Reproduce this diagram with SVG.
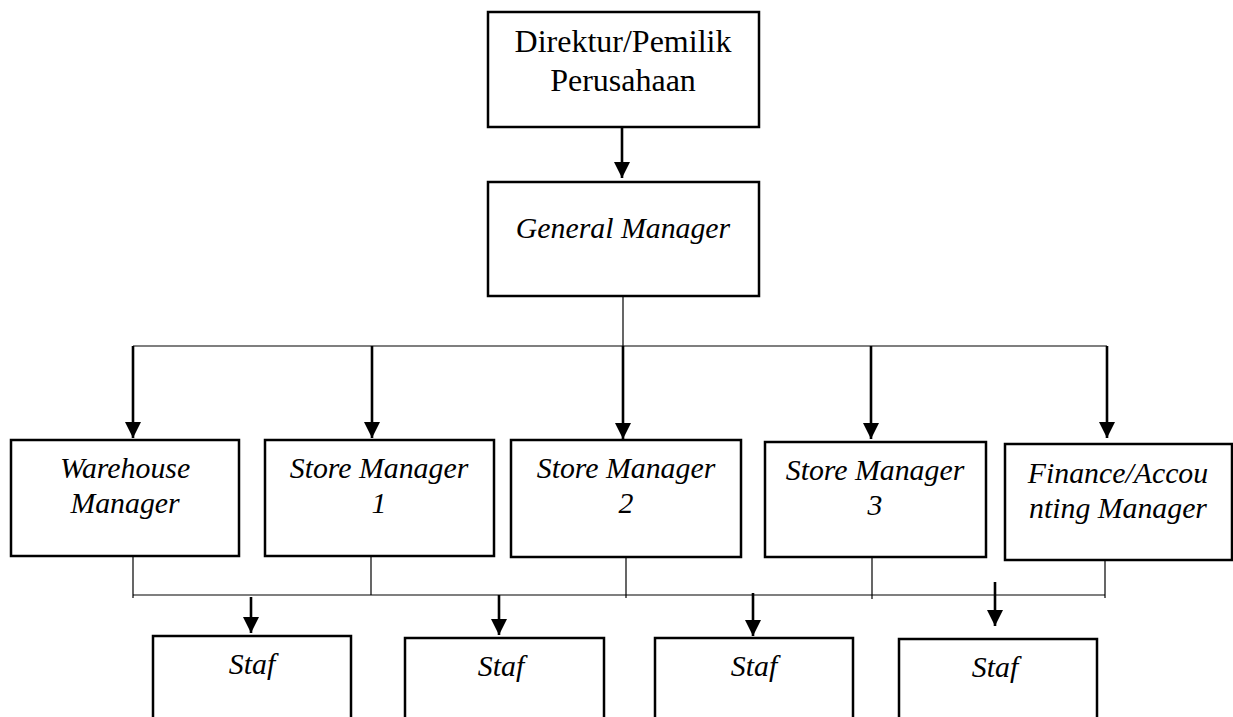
<svg xmlns="http://www.w3.org/2000/svg" width="1233" height="717" viewBox="0 0 1233 717">
<style>
.box{fill:#fff;stroke:#000;stroke-width:2.5}
.t{font-family:"Liberation Serif","Times New Roman",serif;fill:#000;text-anchor:middle}
.r{font-size:32px}
.i{font-size:29.8px;font-style:italic}
.thin{fill:none;stroke:#000;stroke-width:1.2}
.arr{fill:none;stroke:#000;stroke-width:2.6;marker-end:url(#ah)}
</style>
<defs>
<marker id="ah" viewBox="0 0 16 16" refX="16" refY="8" markerWidth="16" markerHeight="16" markerUnits="userSpaceOnUse" orient="auto">
<path d="M0,0 L16,8 L0,16 Z" fill="#000"/>
</marker>
</defs>
<rect width="1233" height="717" fill="#fff"/>
<g id="connectors">
<line class="arr" x1="622" y1="127" x2="622" y2="178"/>
<line class="thin" x1="623" y1="296" x2="623" y2="346"/>
<line class="thin" x1="133" y1="346" x2="1107" y2="346"/>
<line class="arr" x1="133" y1="346" x2="133" y2="438"/>
<line class="arr" x1="372" y1="346" x2="372" y2="438"/>
<line class="arr" x1="623" y1="346" x2="623" y2="439"/>
<line class="arr" x1="871" y1="346" x2="871" y2="439"/>
<line class="arr" x1="1107" y1="346" x2="1107" y2="438"/>
<line class="thin" x1="133" y1="556" x2="133" y2="598"/>
<line class="thin" x1="371" y1="556" x2="371" y2="595"/>
<line class="thin" x1="626" y1="556" x2="626" y2="598"/>
<line class="thin" x1="872" y1="557" x2="872" y2="599"/>
<line class="thin" x1="1105" y1="560" x2="1105" y2="598"/>
<line class="thin" x1="133" y1="595" x2="1105" y2="595"/>
<line class="arr" x1="251" y1="597" x2="251" y2="633"/>
<line class="arr" x1="499" y1="595" x2="499" y2="635"/>
<line class="arr" x1="753" y1="593" x2="753" y2="636"/>
<line class="arr" x1="995" y1="582" x2="995" y2="626"/>
</g>
<g id="direktur">
<rect class="box" x="488" y="12" width="271" height="115"/>
<text class="t r" x="623" y="52">Direktur/Pemilik</text>
<text class="t r" x="623" y="91">Perusahaan</text>
</g>
<g id="general-manager">
<rect class="box" x="488" y="182" width="271" height="114"/>
<text class="t i" x="623" y="238">General Manager</text>
</g>
<g id="warehouse-manager">
<rect class="box" x="11" y="440" width="228" height="116"/>
<text class="t i" x="125" y="478">Warehouse</text>
<text class="t i" x="125" y="513">Manager</text>
</g>
<g id="store-manager-1">
<rect class="box" x="265" y="440" width="229" height="116"/>
<text class="t i" x="379" y="478">Store Manager</text>
<text class="t i" x="379" y="513">1</text>
</g>
<g id="store-manager-2">
<rect class="box" x="511" y="440" width="230" height="117"/>
<text class="t i" x="626" y="478">Store Manager</text>
<text class="t i" x="626" y="513">2</text>
</g>
<g id="store-manager-3">
<rect class="box" x="765" y="442" width="221" height="115"/>
<text class="t i" x="875" y="480">Store Manager</text>
<text class="t i" x="875" y="515">3</text>
</g>
<g id="finance-manager">
<rect class="box" x="1005" y="444" width="227" height="116"/>
<text class="t i" x="1118" y="483">Finance/Accou</text>
<text class="t i" x="1118" y="518">nting Manager</text>
</g>
<g id="staf-1">
<rect class="box" x="153" y="636" width="198" height="90"/>
<text class="t i" x="252" y="674">Staf</text>
</g>
<g id="staf-2">
<rect class="box" x="405" y="638" width="199" height="90"/>
<text class="t i" x="501" y="676">Staf</text>
</g>
<g id="staf-3">
<rect class="box" x="655" y="638" width="198" height="90"/>
<text class="t i" x="754" y="676">Staf</text>
</g>
<g id="staf-4">
<rect class="box" x="899" y="639" width="198" height="90"/>
<text class="t i" x="995" y="677">Staf</text>
</g>
</svg>
